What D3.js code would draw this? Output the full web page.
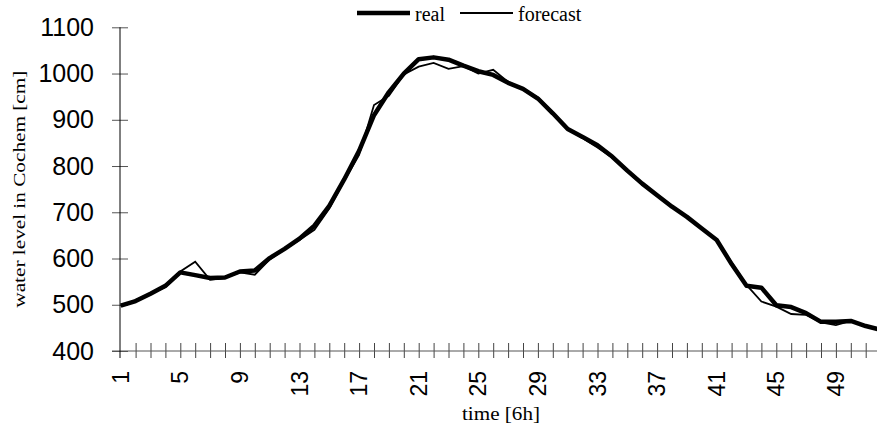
<!DOCTYPE html>
<html>
<head>
<meta charset="utf-8">
<script src="https://cdn.jsdelivr.net/npm/d3@7"></script>
<style>
  body { margin: 0; background: #fff; }
  svg { display: block; }
  .tick text { font-family: "Liberation Sans", Arial, sans-serif; font-size: 24px; fill: #000; }
  .title { font-family: "Liberation Serif", "Times New Roman", serif; fill: #000; }
</style>
</head>
<body>
<div id="chart"></div>
<script>
// time steps (6h each)
var steps = d3.range(1, 53)

var real = [498, 508, 524, 541, 570, 564, 558, 559, 572, 574,
            601, 621, 643, 671, 714, 771, 833, 910, 960, 1000,
            1031, 1035, 1030, 1017, 1005, 997, 980, 967, 946, 914,
            880, 863, 845, 820, 790, 762, 737, 712, 690, 665,
            640, 588, 541, 537, 499, 495, 482, 463, 463, 465,
            454, 446]

var forecast = [497, 510, 524, 538, 572, 593, 554, 558, 570, 565,
                598, 620, 640, 662, 708, 768, 824, 932, 952, 998,
                1015, 1023, 1010, 1016, 1000, 1008, 982, 966, 948, 915,
                880, 860, 840, 818, 788, 760, 738, 714, 690, 664,
                640, 592, 543, 507, 496, 480, 478, 462, 456, 465,
                453, 446]

var yTicks = [400, 500, 600, 700, 800, 900, 1000, 1100]
var xLabels = [1, 5, 9, 13, 17, 21, 25, 29, 33, 37, 41, 45, 49]

var width = 877,
    height = 430

var x = d3.scaleLinear()
  .domain([1, 52])
  .range([120.7, 880.6])

var y = d3.scaleLinear()
  .domain([400, 1100])
  .range([351, 27.3])

var svg = d3.select("#chart").append("svg")
    .attr("width", width)
    .attr("height", height)

// x axis: a tick on every step, labels every 4th
var xAxis = svg.append("g")
    .attr("transform", "translate(0," + y(400) + ")")
    .call(d3.axisBottom(x).tickValues(steps.slice(1)).tickFormat("").tickSizeOuter(0))

xAxis.select(".domain").remove()
xAxis.append("line")
    .attr("x1", 112).attr("x2", width)
    .attr("stroke", "#555")
xAxis.selectAll(".tick line")
    .attr("y1", -8).attr("y2", 7)
    .attr("stroke", "#444")

svg.append("g").selectAll("text")
    .data(xLabels)
  .enter().append("text")
    .attr("transform", function(d) { return "translate(" + x(d) + ",371) rotate(-90)" })
    .attr("text-anchor", "end")
    .attr("dy", "0.35em")
    .style("font-family", "Liberation Sans, Arial, sans-serif")
    .style("font-size", "23px")
    .text(function(d) { return d })

// y axis
var yAxis = svg.append("g")
    .attr("transform", "translate(120,0)")
    .call(d3.axisLeft(y).tickValues(yTicks).tickFormat(d3.format("d")).tickSizeOuter(0).tickPadding(20))

yAxis.select(".domain").remove()
yAxis.append("line")
    .attr("y1", y(1100)).attr("y2", 358)
    .attr("stroke", "#000")
yAxis.selectAll(".tick line")
    .attr("x1", -8).attr("x2", 8)
    .attr("stroke", "#555")
yAxis.selectAll(".tick text")
    .style("font-size", "25px")

var line = d3.line()
  .x(function(d, i) { return x(steps[i]) })
  .y(function(d) { return y(d) })

svg.append("path")
    .datum(real)
    .attr("fill", "none")
    .attr("stroke", "#000")
    .attr("stroke-width", 4.5)
    .attr("stroke-linejoin", "round")
    .attr("d", line)

svg.append("path")
    .datum(forecast)
    .attr("fill", "none")
    .attr("stroke", "#000")
    .attr("stroke-width", 1.8)
    .attr("d", line)

// titles
svg.append("text")
    .attr("class", "title")
    .attr("transform", "translate(25," + ((y(400) + y(1100)) / 2) + ") rotate(-90)")
    .attr("text-anchor", "middle")
    .style("font-size", "17px")
    .attr("textLength", 237)
    .attr("lengthAdjust", "spacingAndGlyphs")
    .text("water level in Cochem [cm]")

svg.append("text")
    .attr("class", "title")
    .attr("x", 501)
    .attr("y", 420)
    .attr("text-anchor", "middle")
    .style("font-size", "18px")
    .attr("textLength", 78)
    .attr("lengthAdjust", "spacingAndGlyphs")
    .text("time [6h]")

// legend
var legend = svg.append("g")
var items = [
  {name: "real", w: 4.5, x: 357},
  {name: "forecast", w: 1.8, x: 460}
]
items.forEach(function(d) {
  legend.append("line")
      .attr("x1", d.x).attr("x2", d.x + 53)
      .attr("y1", 13).attr("y2", 13)
      .attr("stroke", "#000")
      .attr("stroke-width", d.w)
  legend.append("text")
      .attr("class", "title")
      .attr("x", d.x + 58)
      .attr("y", 21)
      .style("font-size", "20px")
      .text(d.name)
})
</script>
</body>
</html>
